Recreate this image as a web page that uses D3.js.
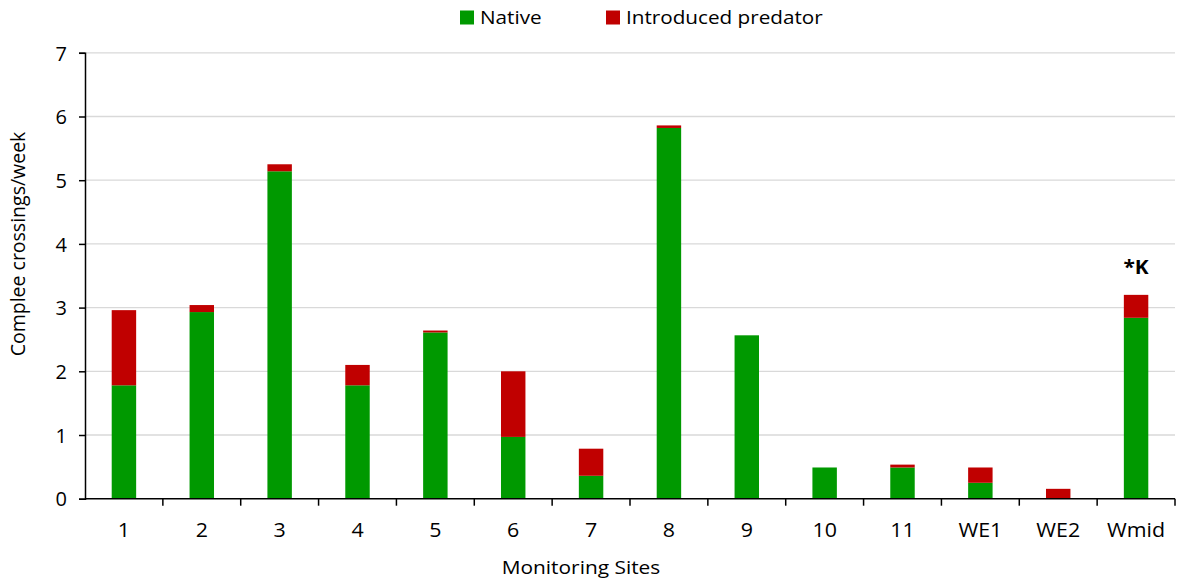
<!DOCTYPE html>
<html><head><meta charset="utf-8">
<script src="https://cdn.jsdelivr.net/npm/d3@7"></script>
<style>body{margin:0;background:#fff}svg{display:block}text{font-family:"Open Sans",sans-serif;fill:#000}</style>
</head><body><svg id="c" width="1179" height="586"></svg>
<script>
const sites = ["1","2","3","4","5","6","7","8","9","10","11","WE1","WE2","Wmid"];
const native = [1.78,2.93,5.14,1.78,2.61,0.97,0.36,5.82,2.565,0.49,0.49,0.25,0,2.84];
const introduced = [1.18,0.11,0.11,0.32,0.03,1.03,0.425,0.04,0,0,0.045,0.24,0.155,0.36];
const yTicks = [0,1,2,3,4,5,6,7];
const seriesNames = ["Native","Introduced predator"];
const colors = ["#009900","#C00000"];
const FONT = "'Open Sans',sans-serif";

const svg = d3.select("#c");
const m = {l:85, r:1175, t:52.8, b:498.7};
const x = d3.scaleBand().domain(sites).range([m.l,m.r]).paddingInner(0.686).paddingOuter(0.343);
const y = d3.scaleLinear().domain([0,7]).range([m.b,m.t]);

// gridlines
svg.append("g").selectAll("line").data(yTicks.slice(1)).join("line")
  .attr("x1",m.l).attr("x2",m.r).attr("y1",d=>y(d)).attr("y2",d=>y(d))
  .attr("stroke","#d9d9d9").attr("stroke-width",1.3);

const data = sites.map((s,i)=>({site:s, Native:native[i], "Introduced predator":introduced[i]}));
const stack = d3.stack().keys(seriesNames)(data);
svg.append("g").selectAll("g").data(stack).join("g").attr("fill",(d,i)=>colors[i])
  .selectAll("rect").data(d=>d).join("rect")
  .attr("x",d=>x(d.data.site)).attr("width",x.bandwidth())
  .attr("y",d=>y(d[1])).attr("height",d=>Math.max(0,y(d[0])-y(d[1])));

// y axis
const ya = svg.append("g").attr("transform",`translate(${m.l},0)`)
  .call(d3.axisLeft(y).tickValues(yTicks).tickSize(6).tickPadding(12).tickFormat(d3.format("d")));
ya.select(".domain").attr("stroke","#000").attr("stroke-width",1.5);
ya.selectAll(".tick line").attr("stroke","#000").attr("stroke-width",1.5);
ya.selectAll(".tick text").attr("font-size",20).attr("font-family",FONT).attr("x",-18).attr("dy","0.36em");

// x axis
const xa = svg.append("g").attr("transform",`translate(0,${m.b})`)
  .call(d3.axisBottom(x).tickSize(0));
xa.select(".domain").attr("stroke","#000").attr("stroke-width",1.5).attr("d",`M${m.l},0H${m.r}`);
xa.selectAll(".tick text").attr("font-size",20).attr("font-family",FONT)
  .attr("y",38.5).attr("dy",0).attr("transform","scale(1.07,1)");
const step = x.step();
svg.append("g").selectAll("line").data(d3.range(1,sites.length+1)).join("line")
  .attr("x1",d=>m.l+d*step).attr("x2",d=>m.l+d*step)
  .attr("y1",m.b).attr("y2",m.b+7).attr("stroke","#000").attr("stroke-width",1.5);

// titles
svg.append("text").attr("transform","translate(581,574) scale(1.16,1)").attr("text-anchor","middle")
  .attr("font-size",18).text("Monitoring Sites");
svg.append("text").attr("transform","translate(25,244) rotate(-90)").attr("text-anchor","middle")
  .attr("font-size",19.5).text("Complee crossings/week");

// annotation
const last = sites.length-1;
svg.append("text").attr("transform",`translate(${x(sites[last])+x.bandwidth()/2},${y(native[last]+introduced[last])-21}) scale(1.1,1)`)
  .attr("text-anchor","middle").attr("font-size",19).attr("font-weight","bold").text("*K");

// legend
const legX = [460,606];
const lg = svg.append("g").selectAll("g").data(seriesNames).join("g")
  .attr("transform",(d,i)=>`translate(${legX[i]},10.5)`);
lg.append("rect").attr("width",14).attr("height",14).attr("fill",(d,i)=>colors[i]);
lg.append("text").attr("transform","translate(20,13.8) scale(1.15,1)").attr("font-size",18).text(d=>d);
</script></body></html>
